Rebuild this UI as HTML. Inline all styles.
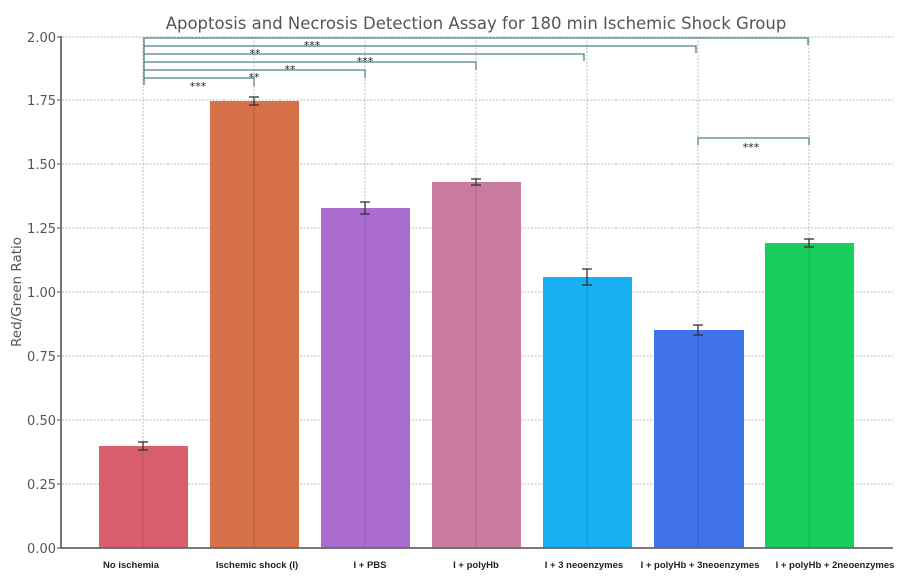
<!DOCTYPE html>
<html><head><meta charset="utf-8"><style>
html,body{margin:0;padding:0;background:#fff;}
svg{display:block;font-family:"DejaVu Sans","Liberation Sans",sans-serif;}
</style></head><body>
<svg width="922" height="581" viewBox="0 0 922 581" xmlns="http://www.w3.org/2000/svg">
<rect width="922" height="581" fill="#fff"/>
<text x="476" y="29" text-anchor="middle" font-size="16.5" fill="#555">Apoptosis and Necrosis Detection Assay for 180 min Ischemic Shock Group</text>
<g stroke="#bbb" stroke-width="1" stroke-dasharray="2,1.5">
<line x1="62" y1="37" x2="893" y2="37"/>
<line x1="62" y1="100" x2="893" y2="100"/>
<line x1="62" y1="164" x2="893" y2="164"/>
<line x1="62" y1="228" x2="893" y2="228"/>
<line x1="62" y1="292" x2="893" y2="292"/>
<line x1="62" y1="356" x2="893" y2="356"/>
<line x1="62" y1="420" x2="893" y2="420"/>
<line x1="62" y1="484" x2="893" y2="484"/>
<line x1="143" y1="37" x2="143" y2="548"/>
<line x1="254" y1="37" x2="254" y2="548"/>
<line x1="365" y1="37" x2="365" y2="548"/>
<line x1="476" y1="37" x2="476" y2="548"/>
<line x1="587" y1="37" x2="587" y2="548"/>
<line x1="698" y1="37" x2="698" y2="548"/>
<line x1="809" y1="37" x2="809" y2="548"/>
</g>
<rect x="99" y="446" width="89" height="102" fill="#d95f6e"/>
<rect x="210" y="101" width="89" height="447" fill="#d6714a"/>
<rect x="321" y="208" width="89" height="340" fill="#ab6ccf"/>
<rect x="432" y="182" width="89" height="366" fill="#c97ba0"/>
<rect x="543" y="277" width="89" height="271" fill="#18b0f2"/>
<rect x="654" y="330" width="90" height="218" fill="#4072ea"/>
<rect x="765" y="243" width="89" height="305" fill="#18cf5e"/>
<g stroke="#000" stroke-opacity="0.15" stroke-width="1">
<line x1="143" y1="446" x2="143" y2="548"/><line x1="254" y1="101" x2="254" y2="548"/><line x1="365" y1="208" x2="365" y2="548"/><line x1="476" y1="182" x2="476" y2="548"/><line x1="587" y1="277" x2="587" y2="548"/><line x1="698" y1="330" x2="698" y2="548"/><line x1="809" y1="243" x2="809" y2="548"/>
</g>
<g stroke="#333" stroke-width="1.3">
<line x1="143" y1="442" x2="143" y2="450"/><line x1="138" y1="442" x2="148" y2="442"/><line x1="138" y1="450" x2="148" y2="450"/>
<line x1="254" y1="97" x2="254" y2="105"/><line x1="249" y1="97" x2="259" y2="97"/><line x1="249" y1="105" x2="259" y2="105"/>
<line x1="365" y1="202" x2="365" y2="214"/><line x1="360" y1="202" x2="370" y2="202"/><line x1="360" y1="214" x2="370" y2="214"/>
<line x1="476" y1="179" x2="476" y2="185"/><line x1="471" y1="179" x2="481" y2="179"/><line x1="471" y1="185" x2="481" y2="185"/>
<line x1="587" y1="269" x2="587" y2="285"/><line x1="582" y1="269" x2="592" y2="269"/><line x1="582" y1="285" x2="592" y2="285"/>
<line x1="698" y1="325" x2="698" y2="335"/><line x1="693" y1="325" x2="703" y2="325"/><line x1="693" y1="335" x2="703" y2="335"/>
<line x1="809" y1="239" x2="809" y2="247"/><line x1="804" y1="239" x2="814" y2="239"/><line x1="804" y1="247" x2="814" y2="247"/>
</g>
<g stroke="#4f7f8c" stroke-width="1.3" fill="none">
<polyline points="144,85 144,38 808,38 808,45"/>
<polyline points="144,46 696,46 696,53"/>
<polyline points="144,54 584,54 584,61"/>
<polyline points="144,62 476,62 476,70"/>
<polyline points="144,70 365,70 365,78"/>
<polyline points="144,78 254,78 254,86"/>
<polyline points="698,145 698,138 809,138 809,145"/>
</g>
<g font-size="11" fill="#222" text-anchor="middle">
<text x="312" y="49">***</text>
<text x="255" y="57">**</text>
<text x="365" y="65">***</text>
<text x="290" y="73">**</text>
<text x="254" y="81">**</text>
<text x="198" y="90">***</text>
<text x="751" y="151">***</text>
</g>
<line x1="61" y1="36" x2="61" y2="549" stroke="#666" stroke-width="1.8"/>
<line x1="60" y1="548" x2="893" y2="548" stroke="#666" stroke-width="1.8"/>
<g stroke="#666" stroke-width="1.2">
<line x1="57" y1="37" x2="61" y2="37"/><line x1="57" y1="100" x2="61" y2="100"/><line x1="57" y1="164" x2="61" y2="164"/><line x1="57" y1="228" x2="61" y2="228"/><line x1="57" y1="292" x2="61" y2="292"/><line x1="57" y1="356" x2="61" y2="356"/><line x1="57" y1="420" x2="61" y2="420"/><line x1="57" y1="484" x2="61" y2="484"/><line x1="57" y1="548" x2="61" y2="548"/>
</g>
<g font-size="13" fill="#555" text-anchor="end">
<text x="56" y="42">2.00</text>
<text x="56" y="105">1.75</text>
<text x="56" y="169">1.50</text>
<text x="56" y="233">1.25</text>
<text x="56" y="297">1.00</text>
<text x="56" y="361">0.75</text>
<text x="56" y="425">0.50</text>
<text x="56" y="489">0.25</text>
<text x="56" y="553">0.00</text>
</g>
<text x="21" y="292" font-size="13.5" fill="#555" text-anchor="middle" transform="rotate(-90 21 292)">Red/Green Ratio</text>
<g font-size="9.5" font-weight="bold" fill="#222" text-anchor="middle" font-family="Liberation Sans,sans-serif">
<text x="131" y="568">No ischemia</text>
<text x="257" y="568">Ischemic shock (I)</text>
<text x="370" y="568">I + PBS</text>
<text x="476" y="568">I + polyHb</text>
<text x="584" y="568">I + 3 neoenzymes</text>
<text x="700" y="568">I + polyHb + 3neoenzymes</text>
<text x="835" y="568">I + polyHb + 2neoenzymes</text>
</g>
</svg>
</body></html>
